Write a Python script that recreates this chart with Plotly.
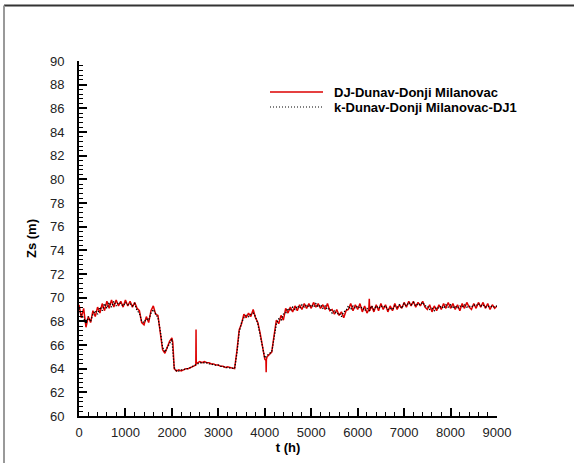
import plotly.graph_objects as go

# Observed series: DJ-Dunav-Donji Milanovac (red, solid)
t_obs = [0, 50, 100, 150, 200, 250, 300, 350, 400, 450, 500, 550, 600, 650, 700, 750, 800, 850, 900, 950,
         1000, 1050, 1100, 1150, 1200, 1250, 1300, 1350, 1400, 1450, 1500, 1550, 1600, 1650, 1700, 1750,
         1800, 1850, 1900, 1950, 2000, 2020,
         2050, 2100, 2150, 2200, 2250, 2300, 2350, 2400, 2450, 2500,
         2515, 2520, 2525,
         2550, 2600, 2650, 2700, 2750, 2800, 2850, 2900, 2950, 3000, 3050, 3100, 3150,
         3200, 3250, 3300, 3350, 3400, 3450, 3500, 3550, 3600, 3650, 3700, 3750, 3800, 3850, 3900, 3950,
         4000, 4025, 4030, 4035,
         4050, 4100, 4150, 4200, 4250, 4300, 4350, 4400, 4450, 4500, 4550, 4600,
         4650, 4700, 4750, 4800, 4850, 4900, 4950, 5000, 5050, 5100, 5150, 5200, 5250, 5300, 5350, 5400,
         5450, 5500, 5550, 5600, 5650, 5700, 5750, 5800, 5850, 5900, 5950, 6000, 6050, 6100, 6150, 6200,
         6240, 6250, 6260,
         6300, 6350, 6400, 6450, 6500, 6550, 6600, 6650, 6700, 6750, 6800, 6850, 6900, 6950, 7000, 7050,
         7100, 7150, 7200, 7250, 7300, 7350, 7400, 7450, 7500, 7550, 7600, 7650, 7700,
         7750, 7800, 7850, 7900, 7950, 8000, 8050, 8100, 8150, 8200, 8250, 8300, 8350, 8400, 8450, 8500,
         8550, 8600, 8650, 8700, 8750, 8800, 8850, 8900, 8950, 9000]
z_obs = [69.4, 68.3, 69.1, 67.5, 68.4, 67.9, 68.9, 68.4, 69.2, 68.7, 69.5, 68.9, 69.7, 69.1, 69.8, 69.2, 69.8, 69.3, 69.7, 69.2,
         69.8, 69.3, 69.7, 69.2, 69.6, 69.1, 68.9, 67.9, 67.7, 68.4, 67.9, 68.9, 69.3, 68.6, 68.5, 67.0,
         65.6, 65.3, 65.9, 66.3, 66.6, 66.2,
         64.0, 63.8, 63.9, 63.8, 63.9, 64.0, 64.0, 64.1, 64.2, 64.3,
         64.3, 67.3, 64.4,
         64.5, 64.6, 64.5, 64.6, 64.5, 64.5, 64.4, 64.4, 64.3, 64.3, 64.2, 64.2, 64.1,
         64.15, 64.1, 64.05, 64.0, 65.5, 67.3, 67.8, 68.6, 68.3, 68.7, 68.4, 69.0, 68.3, 67.9, 67.0, 65.8,
         64.8, 64.7, 63.7, 64.8,
         65.0, 65.2, 65.4, 66.8, 68.1, 67.8, 68.5, 68.1, 69.1, 68.7, 69.2, 68.8,
         69.3, 68.9, 69.4, 69.0, 69.5, 69.1, 69.5, 69.1, 69.6, 69.2, 69.5, 69.1, 69.4, 69.0, 69.5, 68.9,
         69.0, 68.6, 69.0, 68.5, 68.8, 68.3, 68.9, 69.0, 69.5, 68.9, 69.4, 69.0, 69.5, 68.8, 69.3, 68.7,
         69.0, 69.9, 68.9,
         69.3, 68.8, 69.4, 68.9, 69.5, 69.0, 69.4, 68.8, 69.3, 68.9, 69.5, 69.0, 69.4, 69.1, 69.6, 69.2,
         69.7, 69.3, 69.7, 69.2, 69.6, 69.3, 69.7, 69.2, 69.0, 69.4, 68.8, 69.3, 68.9,
         69.4, 69.0, 69.5, 69.1, 69.6, 69.1, 69.5, 69.0, 69.4, 68.9, 69.5, 69.1, 69.6, 69.2, 69.0, 69.5,
         69.1, 69.6, 69.2, 69.6, 69.1, 69.5, 69.0, 69.4, 69.1, 69.3]
assert len(t_obs) == len(z_obs)

# Model series: k-Dunav-Donji Milanovac-DJ1 (black, dotted), hourly record sampled every 50 h
t_mod = list(range(0, 9001, 50))
z_mod = [69.1, 68.5, 68.3, 67.8, 68.4, 68.0, 68.6, 68.9, 68.6, 69.2, 68.9, 69.5, 69.1, 69.6, 69.2, 69.7, 69.3, 69.6, 69.5, 69.3,
         69.6, 69.4, 69.5, 69.3, 69.5, 68.9, 68.7, 68.0, 67.9, 68.2, 68.1, 68.7, 69.0, 68.7, 68.3, 67.2, 65.8, 65.4, 65.8, 66.2,
         66.5, 64.1, 63.8, 63.8, 63.9, 63.9, 64.0, 64.0, 64.1, 64.2, 64.3, 64.4, 64.5, 64.5, 64.5, 64.5, 64.4, 64.4, 64.3, 64.3,
         64.3, 64.2, 64.2, 64.1, 64.1, 64.1, 64.05, 64.0, 65.3, 67.1, 67.9, 68.3, 68.5, 68.4, 68.6, 68.7, 68.4, 67.8, 66.9, 65.9,
         64.9, 65.1, 65.3, 65.4, 66.6, 67.8, 68.2, 68.1, 68.6, 68.7, 69.1, 68.9, 69.2, 69.0, 69.3, 69.1, 69.4, 69.2, 69.4, 69.2,
         69.4, 69.2, 69.5, 69.2, 69.4, 69.1, 69.3, 69.0, 69.1, 68.7, 68.9, 68.6, 68.7, 68.4, 68.8, 68.9, 69.3, 69.0, 69.3, 69.1,
         69.3, 69.1, 69.2, 68.9, 69.1, 68.9, 69.3, 69.0, 69.3, 69.1, 69.3, 69.2, 69.3, 69.0, 69.1, 69.0, 69.3, 69.2, 69.4, 69.1,
         69.5, 69.3, 69.6, 69.4, 69.6, 69.3, 69.5, 69.4, 69.6, 69.3, 69.3, 69.0, 69.1, 68.9, 69.2, 69.1, 69.3, 69.1, 69.4, 69.2,
         69.4, 69.1, 69.3, 69.1, 69.3, 69.2, 69.4, 69.2, 69.3, 69.2, 69.4, 69.3, 69.5, 69.3, 69.4, 69.2, 69.3, 69.2, 69.3, 69.2,
         69.3]
assert len(t_mod) == len(z_mod)

name_obs = "DJ-Dunav-Donji Milanovac"
name_mod = "k-Dunav-Donji Milanovac-DJ1"

RED = "#dd0000"
FONT = "Liberation Sans, Arial"

W, H = 574, 463
L, R, T, B = 79, 77, 61, 47
pw, ph = W - L - R, H - T - B

def px(x):
    return (x - L) / pw

def py(y):
    return (H - B - y) / ph

fig = go.Figure()
fig.add_trace(go.Scatter(x=t_obs, y=z_obs, mode="lines", name=name_obs,
                         line=dict(color=RED, width=1.5)))
fig.add_trace(go.Scatter(x=t_mod, y=z_mod, mode="lines", name=name_mod,
                         line=dict(color="#000000", width=1.3, dash="1.3px,1.7px")))

axis_common = dict(
    showgrid=False, zeroline=False, showline=True, linecolor="#000000", linewidth=2,
    ticks="inside", ticklen=8, tickwidth=2, tickcolor="#000000",
    tickfont=dict(family=FONT, size=13, color="#222222"),
    mirror=False, automargin=False,
)

fig.update_xaxes(range=[0, 9000], tick0=0, dtick=1000, ticklabelstandoff=3,
                 minor=dict(ticks="inside", dtick=200, ticklen=4, tickwidth=1, tickcolor="#000000"),
                 title=dict(text="<b>t (h)</b>", standoff=3,
                            font=dict(family=FONT, size=13, color="#000000")),
                 **axis_common)
fig.update_yaxes(range=[60, 90], tick0=60, dtick=2, ticklabelstandoff=10,
                 minor=dict(ticks="inside", dtick=0.4, ticklen=4, tickwidth=1, tickcolor="#000000"),
                 title=dict(text="<b>Zs (m)</b>", standoff=10,
                            font=dict(family=FONT, size=13, color="#000000")),
                 **axis_common)

# Manual legend (line samples + bold labels)
leg_y1, leg_y2 = 92, 107
shapes = [
    dict(type="line", xref="paper", yref="paper", x0=px(4), x1=px(574), y0=py(5.5), y1=py(5.5),
         line=dict(color="#333333", width=2)),
    dict(type="line", xref="paper", yref="paper", x0=px(4), x1=px(4), y0=py(5.5), y1=py(463),
         line=dict(color="#999999", width=2)),
    dict(type="line", xref="paper", yref="paper", x0=px(270), x1=px(323), y0=py(leg_y1), y1=py(leg_y1),
         line=dict(color=RED, width=1.3)),
    dict(type="line", xref="paper", yref="paper", x0=px(270), x1=px(323), y0=py(leg_y2), y1=py(leg_y2),
         line=dict(color="#000000", width=1, dash="1px,2px")),
]
annotations = [
    dict(text="<b>%s</b>" % name_obs, xref="paper", yref="paper", x=px(332), y=py(leg_y1),
         xanchor="left", yanchor="middle", showarrow=False,
         font=dict(family=FONT, size=13, color="#000000")),
    dict(text="<b>%s</b>" % name_mod, xref="paper", yref="paper", x=px(332), y=py(leg_y2),
         xanchor="left", yanchor="middle", showarrow=False,
         font=dict(family=FONT, size=13, color="#000000")),
]

fig.update_layout(
    width=W, height=H,
    margin=dict(l=L, r=R, t=T, b=B, pad=0),
    paper_bgcolor="#ffffff", plot_bgcolor="#ffffff",
    showlegend=False,
    font=dict(family=FONT),
    shapes=shapes,
    annotations=annotations,
)

fig.write_html("out.html", config={"displayModeBar": False},
               post_script="document.body.style.margin='0';")
